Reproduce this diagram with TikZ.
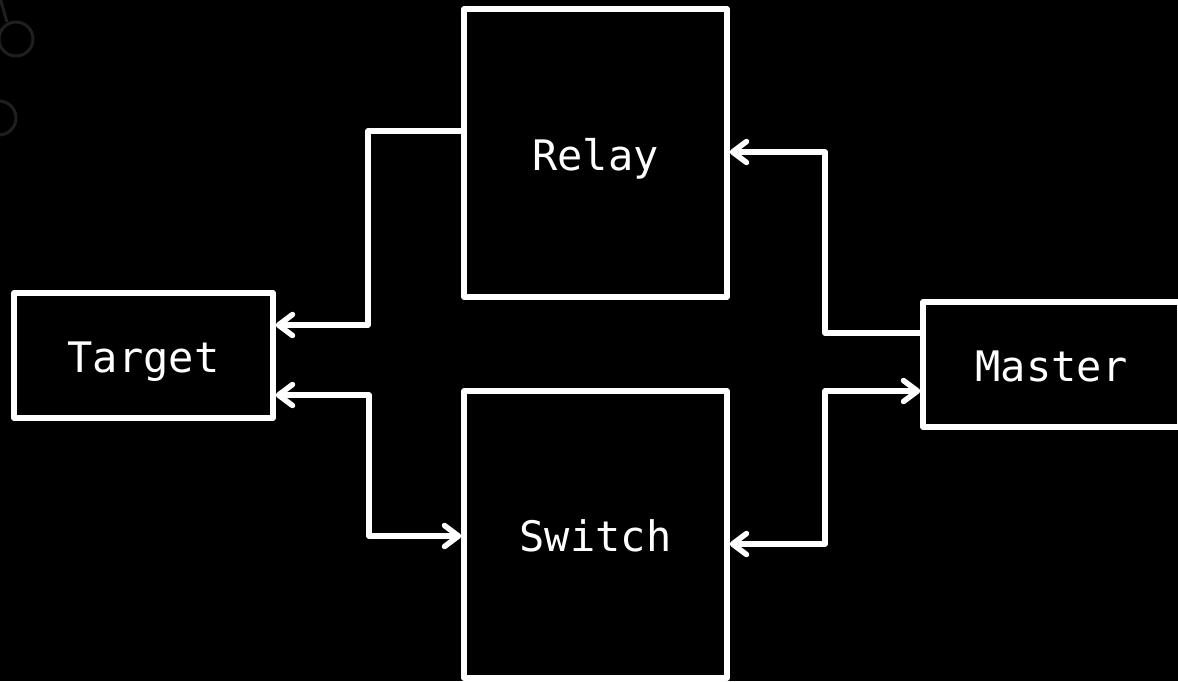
\documentclass[tikz,border=0pt]{standalone}
\usepackage{fontspec}
\newfontfamily\diagmono{DejaVu Sans Mono}
\usetikzlibrary{arrows.meta}
\tikzset{
  blk/.style={draw=white, line width=5.5pt, line join=round, fill=black, inner sep=0pt,
    text=white, text height=40pt, text depth=6pt, font=\fontsize{42}{50}\selectfont\diagmono},
  conn/.style={draw=white, line width=5.5pt, line join=round,
    arrows={-}, >={Straight Barb[length=14pt,width=21pt,round]}},
  ghost/.style={draw=black!88!white, line width=3pt}
}
\begin{document}
\begin{tikzpicture}[x=1pt,y=-1pt]
\fill[black] (0,0) rectangle (1178,681);
\useasboundingbox (0,0) rectangle (1178,681);
% faint background remnants
\draw[ghost] (0,-2) -- (7,22);
\draw[ghost] (16,39) circle[radius=17];
\draw[ghost] (-1,118) circle[radius=17];
% boxes
\node[blk, minimum width=263pt, minimum height=288pt] (Relay) at (595.5,153) {Relay};
\node[blk, minimum width=263pt, minimum height=287pt] (Switch) at (595.5,534.5) {Switch};
\node[blk, minimum width=259pt, minimum height=125pt] (Target) at (143.5,355.5) {Target};
\node[blk, minimum width=257pt, minimum height=125pt] (Master) at (1051.5,364.5) {Master};
% connectors
\draw[conn,->] (Relay.west |- 0,131) -- (368,131) |- (Target.east |- 0,325);
\draw[conn,<->] (Target.east |- 0,395) -| (369,536) -- (Switch.west |- 0,536);
\draw[conn,->] (Master.west |- 0,333) -| (825,152) -- (Relay.east |- 0,152);
\draw[conn,<->] (Master.west |- 0,391) -| (825,544) -- (Switch.east |- 0,544);
\end{tikzpicture}
\end{document}
